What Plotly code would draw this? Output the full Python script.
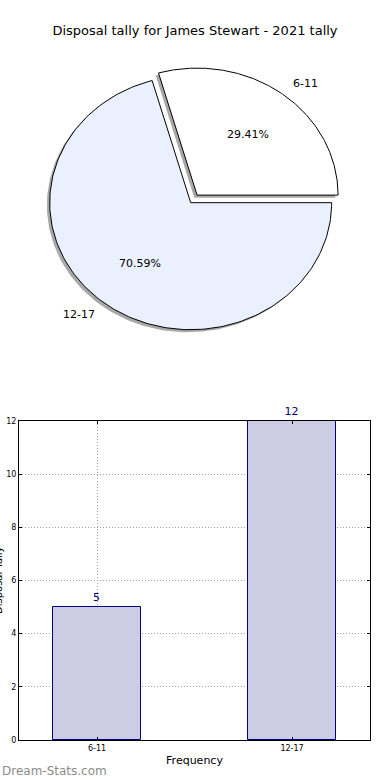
import numpy as np
import plotly.graph_objects as go

# ---- data ----
categories = ["6-11", "12-17"]
counts = [5, 12]
pie_colors = ["#ffffff", "#ebf0ff"]
explode = [0.075, 0.0]
title_text = "Disposal tally for James Stewart - 2021 tally"
y_ticks = [0, 2, 4, 6, 8, 10, 12]

W, H = 390, 780
fig = go.Figure()

# ---- pie drawn on an x/y axis (elliptical like the original) ----
total = sum(counts)
fracs = [c / total for c in counts]
start = 0.0
wedges = []
for frac, ex in zip(fracs, explode):
    a0, a1 = start, start + frac * 360.0
    mid = np.deg2rad((a0 + a1) / 2)
    cx, cy = ex * np.cos(mid), ex * np.sin(mid)
    th = np.deg2rad(np.linspace(a0, a1, 200))
    xs = np.concatenate([[cx], cx + np.cos(th), [cx]])
    ys = np.concatenate([[cy], cy + np.sin(th), [cy]])
    wedges.append((xs, ys, cx, cy, mid, frac))
    start = a1

# shadows
for xs, ys, *_ in wedges:
    fig.add_trace(go.Scatter(x=xs - 0.02, y=ys - 0.02, mode="lines", fill="toself",
                             fillcolor="#a8a8a8", line=dict(width=0, color="#a8a8a8"),
                             hoverinfo="skip", showlegend=False, xaxis="x", yaxis="y"))
# wedges
for (xs, ys, *_), col in zip(wedges, pie_colors):
    fig.add_trace(go.Scatter(x=xs, y=ys, mode="lines", fill="toself",
                             fillcolor=col, line=dict(width=1, color="#000000"),
                             hoverinfo="skip", showlegend=False, xaxis="x", yaxis="y"))

font_family = "DejaVu Sans"
for (xs, ys, cx, cy, mid, frac), lab in zip(wedges, categories):
    lx, ly = cx + 1.1 * np.cos(mid), cy + 1.1 * np.sin(mid)
    fig.add_annotation(x=lx, y=ly, xref="x", yref="y", text=lab, showarrow=False,
                       xanchor="left" if lx > 0 else "right", yanchor="middle",
                       font=dict(family=font_family, size=11, color="#000"))
    px, py = cx + 0.6 * np.cos(mid), cy + 0.6 * np.sin(mid)
    fig.add_annotation(x=px, y=py, xref="x", yref="y", text=f"{frac*100:.2f}%",
                       showarrow=False, xanchor="center", yanchor="middle",
                       font=dict(family=font_family, size=11, color="#000"))

# pie axes geometry (pixel mapping)
cxp, cyp, rx, ry = 190.7, 202.7, 141.0, 127.0
pie_bottom_px = 400
fig.update_layout(
    xaxis=dict(domain=[0, 1], range=[-cxp / rx, (W - cxp) / rx], visible=False,
               fixedrange=True, automargin=False),
    yaxis=dict(domain=[1 - pie_bottom_px / H, 1], anchor="x",
               range=[-(pie_bottom_px - cyp) / ry, cyp / ry], visible=False,
               fixedrange=True, automargin=False),
)

# ---- bar chart ----
fig.add_trace(go.Bar(x=categories, y=counts, width=0.45, xaxis="x2", yaxis="y2",
                     marker=dict(color="#ccccE5", line=dict(color="#000080", width=1)),
                     text=[str(c) for c in counts], textposition="outside",
                     textfont=dict(family=font_family, size=11, color="#000080"),
                     cliponaxis=False, hoverinfo="skip", showlegend=False))

bl, br, bt, bb = 19, 370, 421, 740
grid_kw = dict(showgrid=True, gridcolor="#a0a0a0", griddash="1px,2px", gridwidth=1)
fig.update_layout(
    xaxis2=dict(domain=[bl / W, br / W], anchor="y2", range=[-0.4, 1.4], type="category",
                showline=True, mirror="ticks", linecolor="#000", linewidth=1,
                ticks="inside", ticklen=3, tickcolor="#000", automargin=False,
                tickfont=dict(family=font_family, size=8, color="#000"),
                title=dict(text="Frequency", font=dict(family=font_family, size=11, color="#000"),
                           standoff=4),
                zeroline=False, **grid_kw),
    yaxis2=dict(domain=[1 - bb / H, 1 - bt / H], anchor="x2", range=[0, 12],
                tickvals=y_ticks, showline=True, mirror="ticks", linecolor="#000", linewidth=1,
                ticks="inside", ticklen=3, tickcolor="#000", automargin=False,
                tickfont=dict(family=font_family, size=8, color="#000"),
                zeroline=False, **grid_kw),
)

# y-axis label, mostly clipped at the left edge as in the original
fig.add_annotation(x=-2 / W, y=1 - 580 / H, xref="paper", yref="paper", text="Disposal Tally",
                   textangle=-90, showarrow=False, xanchor="center", yanchor="middle",
                   font=dict(family=font_family, size=10, color="#000"))

# watermark
fig.add_annotation(x=0, y=1 - 771 / H, xref="paper", yref="paper", text="Dream-Stats.com",
                   showarrow=False, xanchor="left", yanchor="middle",
                   font=dict(family="DejaVu Sans", size=12, color="#8c8c8c"))

fig.update_layout(
    width=W, height=H, margin=dict(l=0, r=0, t=0, b=0, autoexpand=False),
    paper_bgcolor="white", plot_bgcolor="white",
    title=dict(text=title_text, x=0.5, xanchor="center", y=1 - 30 / H, yanchor="middle",
               font=dict(family=font_family, size=13, color="#000")),
    bargap=0,
)

post = "document.documentElement.style.margin='0'; document.body.style.margin='0';"
fig.write_html("out.html", post_script=post, config={"displayModeBar": False})
